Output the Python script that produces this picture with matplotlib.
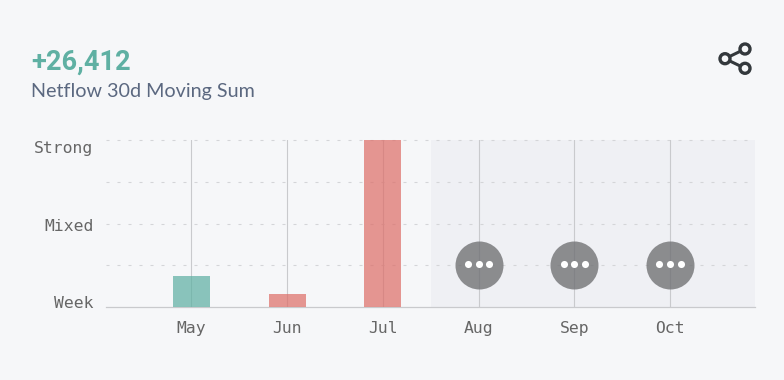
import matplotlib
matplotlib.use('Agg')
import matplotlib.pyplot as plt
from matplotlib.patches import Circle

months = ['May', 'Jun', 'Jul', 'Aug', 'Sep', 'Oct']
pos_values = [0.75, 0, 0]
neg_values = [0, 0.3, 4]
strength_labels = ['Week', 'Mixed', 'Strong']
strength_ticks = [0.11, 1.97, 3.83]
grid_levels = [1, 2, 3, 4]
pending_months = [3, 4, 5]
pending_level = 1.01

BG = '#f6f7f9'
TEAL = '#5fb0a3'
GREY_TXT = '#666666'
LINE = '#c9cacd'

W, H = 784, 380
fig = plt.figure(figsize=(W / 100, H / 100), dpi=100, facecolor=BG)

# axes box in pixels
left, right, top, bottom = 106, 755, 140, 307
ax = fig.add_axes([left / W, 1 - bottom / H, (right - left) / W, (bottom - top) / H], facecolor=BG)

ax.set_xlim(-0.893, 5.888)
ax.set_ylim(0, 4)
ax.axvspan(2.5, 5.888, color='#eff0f4', lw=0, zorder=0)

for lev in grid_levels:
    ax.axhline(lev, color='#d4d5d8', lw=0.8, dashes=(2.7, 7.2), zorder=1, clip_on=False)
for i in range(len(months)):
    ax.axvline(i, color=LINE, lw=0.8, zorder=1)

xs = list(range(3))
ax.bar(xs, pos_values, width=0.386, color=TEAL, alpha=0.72, lw=0, zorder=3)
ax.bar(xs, neg_values, width=0.386, color='#dd6f69', alpha=0.72, lw=0, zorder=3)

# grey "more" badges
ax.scatter(pending_months, [pending_level] * 3, s=1194, color='#6f7072', alpha=0.78, lw=0, zorder=4)
for m in pending_months:
    ax.scatter([m - 0.11, m, m + 0.11], [pending_level + 0.01] * 3, s=26, color='white', lw=0, zorder=5)

for s in ['top', 'left', 'right']:
    ax.spines[s].set_visible(False)
ax.spines['bottom'].set_color(LINE)
ax.spines['bottom'].set_linewidth(0.9)

ax.set_xticks(range(len(months)), months)
ax.set_yticks(strength_ticks, strength_labels)
ax.tick_params(length=0)
ax.tick_params(axis='x', pad=10)
ax.tick_params(axis='y', pad=9)
for t in ax.get_xticklabels() + ax.get_yticklabels():
    t.set_family('DejaVu Sans Mono')
    t.set_fontsize(11.8)
    t.set_color(GREY_TXT)

fig.text(31 / W, 1 - 70 / H, '+26,412', family='Roboto', weight='bold', fontsize=19.5, color=TEAL)
fig.text(31 / W, 1 - 97 / H, 'Netflow 30d Moving Sum', family='Lato', fontsize=14.2, color='#5b6880')

# share icon, drawn in pixel coords
ov = fig.add_axes([0, 0, 1, 1], facecolor='none')
ov.set_xlim(0, W)
ov.set_ylim(H, 0)
ov.axis('off')
icon = [(725, 58.7), (745, 49), (745, 68.3)]
ICON_C = '#33383c'
ov.plot([icon[1][0], icon[0][0], icon[2][0]], [icon[1][1], icon[0][1], icon[2][1]], color=ICON_C, lw=2.2)
for c in icon:
    ov.add_patch(Circle(c, 5, facecolor=BG, edgecolor=ICON_C, lw=2.4, zorder=3))

fig.savefig('out.png', dpi=100, facecolor=BG)
